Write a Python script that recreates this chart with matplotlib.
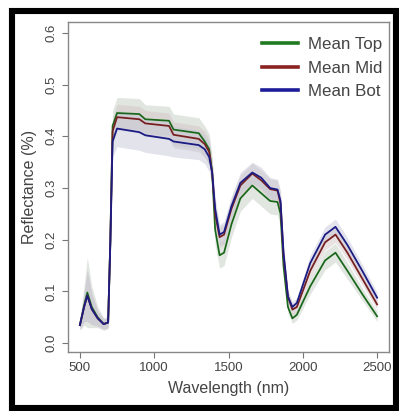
import matplotlib
matplotlib.use("Agg")
import matplotlib.pyplot as plt
from matplotlib.patches import Rectangle
from matplotlib.lines import Line2D
import numpy as np

# wavelength knots (nm)
wl = [500, 530, 550, 580, 620, 660, 690, 705, 720, 750, 900, 940, 1100, 1130,
      1300, 1340, 1370, 1390, 1410, 1440, 1470, 1520, 1580, 1660, 1720, 1780,
      1830, 1850, 1870, 1900, 1930, 1960, 2050, 2150, 2220, 2300, 2400, 2500]

mean_top = [0.035, 0.075, 0.098, 0.070, 0.050, 0.037, 0.040, 0.200, 0.420, 0.445,
            0.443, 0.433, 0.430, 0.413, 0.406, 0.390, 0.375, 0.330, 0.220, 0.170,
            0.175, 0.230, 0.280, 0.305, 0.290, 0.275, 0.273, 0.250, 0.150, 0.070,
            0.048, 0.055, 0.110, 0.160, 0.175, 0.140, 0.095, 0.052]
mean_mid = [0.035, 0.072, 0.092, 0.066, 0.048, 0.037, 0.040, 0.200, 0.410, 0.437,
            0.433, 0.425, 0.420, 0.403, 0.395, 0.385, 0.370, 0.330, 0.250, 0.205,
            0.210, 0.260, 0.305, 0.328, 0.315, 0.298, 0.295, 0.270, 0.170, 0.090,
            0.065, 0.070, 0.140, 0.195, 0.210, 0.175, 0.125, 0.075]
mean_bot = [0.035, 0.072, 0.092, 0.066, 0.048, 0.037, 0.040, 0.195, 0.390, 0.415,
            0.408, 0.402, 0.395, 0.390, 0.383, 0.375, 0.360, 0.330, 0.260, 0.210,
            0.215, 0.265, 0.310, 0.330, 0.320, 0.300, 0.297, 0.275, 0.175, 0.090,
            0.070, 0.078, 0.155, 0.210, 0.225, 0.190, 0.140, 0.088]

sd_top = [0.010, 0.040, 0.068, 0.040, 0.020, 0.012, 0.012, 0.030, 0.030, 0.030,
          0.030, 0.028, 0.028, 0.030, 0.030, 0.030, 0.030, 0.030, 0.030, 0.025,
          0.025, 0.025, 0.025, 0.025, 0.025, 0.025, 0.025, 0.025, 0.020, 0.012,
          0.010, 0.010, 0.015, 0.018, 0.018, 0.016, 0.012, 0.010]
sd_mid = [0.008, 0.030, 0.050, 0.030, 0.015, 0.010, 0.010, 0.025, 0.025, 0.025,
          0.025, 0.025, 0.025, 0.025, 0.025, 0.025, 0.025, 0.025, 0.022, 0.020,
          0.020, 0.020, 0.020, 0.020, 0.020, 0.020, 0.020, 0.020, 0.018, 0.012,
          0.010, 0.010, 0.015, 0.015, 0.015, 0.014, 0.012, 0.010]
sd_bot = [0.008, 0.030, 0.050, 0.030, 0.015, 0.010, 0.010, 0.025, 0.030, 0.035,
          0.035, 0.033, 0.033, 0.030, 0.028, 0.028, 0.028, 0.025, 0.022, 0.020,
          0.020, 0.020, 0.020, 0.020, 0.020, 0.020, 0.020, 0.020, 0.018, 0.012,
          0.010, 0.010, 0.015, 0.015, 0.015, 0.014, 0.012, 0.010]

labels = ["Mean Top", "Mean Mid", "Mean Bot"]
colors = ["#1f7a1f", "#8b2323", "#1c1c9a"]
fills = ["#c4cec4", "#d4c6c6", "#c6c8d8"]

xticks = [500, 1000, 1500, 2000, 2500]
yticks = [0.0, 0.1, 0.2, 0.3, 0.4, 0.5, 0.6]

plt.rcParams["font.family"] = ["Liberation Sans", "DejaVu Sans"]

W, H = 399, 411
fig = plt.figure(figsize=(W / 100, H / 100), dpi=100)
ax = fig.add_axes([68 / W, 1 - 352 / H, 321 / W, 330 / H])

x = np.array(wl)
series = [(mean_top, sd_top), (mean_mid, sd_mid), (mean_bot, sd_bot)]
for (m, s), fc in zip(series, fills):
    m, s = np.array(m), np.array(s)
    ax.fill_between(x, m - s, m + s, color=fc, alpha=0.5, lw=0)
for (m, s), c in zip(series, colors):
    ax.plot(x, m, color=c, lw=1.3)
    ax.plot(x, m, color="#222222", lw=0.4, alpha=0.5)

ax.set_xlim(420, 2580)
ax.set_ylim(-0.017, 0.621)
ax.set_xticks(xticks)
ax.set_yticks(yticks)
ax.set_yticklabels([f"{v:.1f}" for v in yticks], rotation=90, va="center")
ax.tick_params(colors="#777777", labelcolor="#444444", labelsize=9.5,
               length=4, width=0.8)
for sp in ax.spines.values():
    sp.set_color("#888888")
    sp.set_linewidth(1.0)

ax.set_xlabel("Wavelength (nm)", fontsize=11.5, color="#444444", labelpad=5)
ax.set_ylabel("Reflectance (%)", fontsize=11.5, color="#444444", labelpad=6)

handles = [Line2D([], [], color=c, lw=2.6) for c in colors]
leg = ax.legend(handles, labels, loc="upper right", frameon=False,
                bbox_to_anchor=(1.0, 0.976), borderaxespad=0,
                fontsize=12.2, handlelength=2.1, handletextpad=0.6,
                labelspacing=0.52)
for t in leg.get_texts():
    t.set_color("#444444")

# thick black frame around the picture
fig.add_artist(Rectangle((12 / W, 3 / H), 384 / W, 397 / H,
                         transform=fig.transFigure, fill=False,
                         ec="black", lw=4.4))

fig.savefig("out.png", dpi=100)
